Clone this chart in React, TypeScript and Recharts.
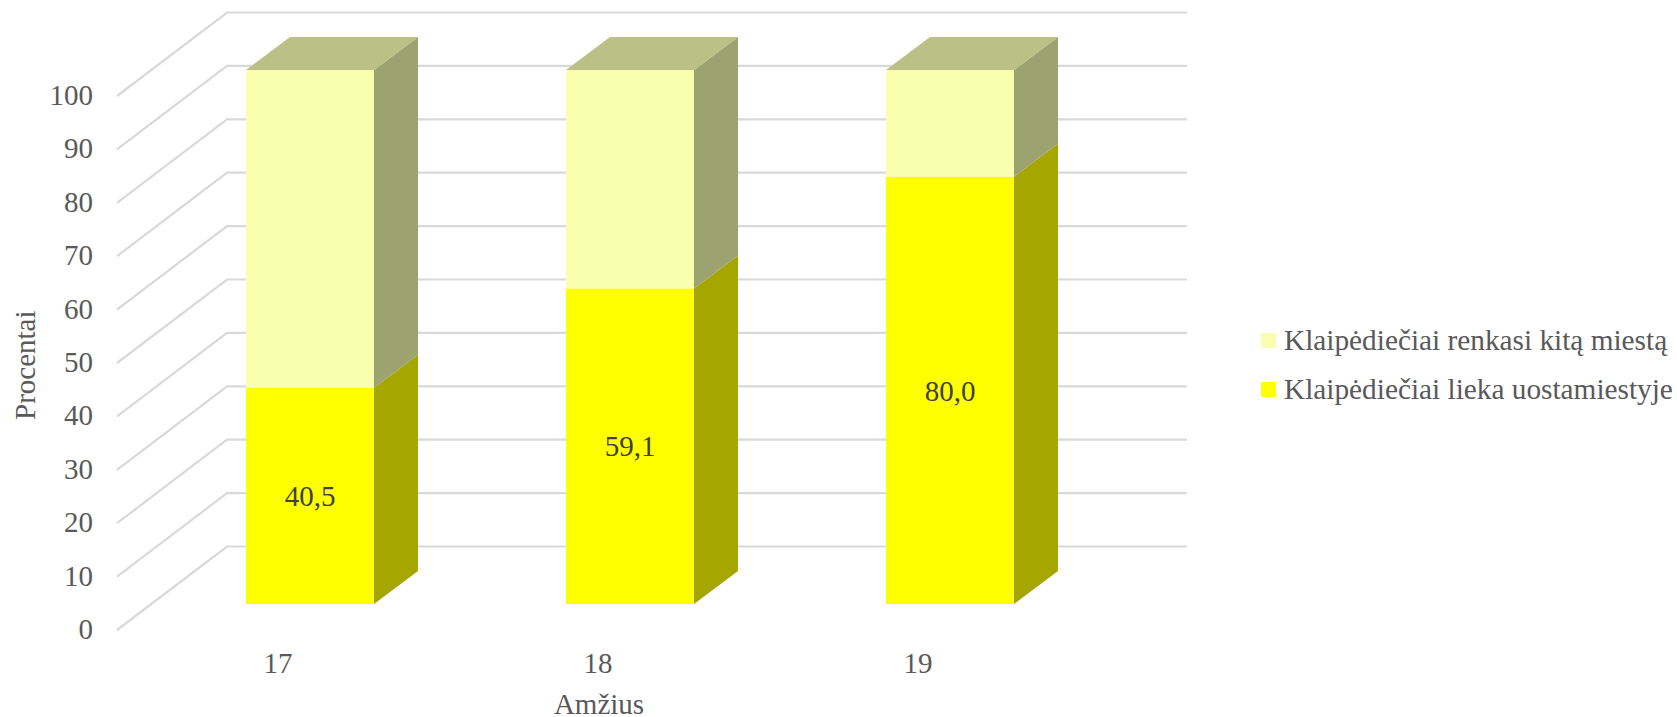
import { Bar, BarChart, CartesianGrid, LabelList, Legend, XAxis, YAxis } from "recharts";

const ages = ["17", "18", "19"];
const stayValues = [40.5, 59.1, 80.0];
const leaveValues = [59.5, 40.9, 20.0];
const yTicks = [0, 10, 20, 30, 40, 50, 60, 70, 80, 90, 100];

const STAY_NAME = "Klaipėdiečiai lieka uostamiestyje";
const LEAVE_NAME = "Klaipėdiečiai renkasi kitą miestą";

const chartData = ages.map((age, i) => ({ age, stay: stayValues[i], leave: leaveValues[i] }));

const FONT = "'Liberation Serif', serif";
const FONT_SIZE = 29;
const DEPTH_X = 44;
const DEPTH_Y = 33;

const colors = {
  grid: "#d9d9d9",
  axis: "#595959",
  label: "#404040",
  stay: "#ffff00",
  staySide: "#a6a600",
  leave: "#fafeaf",
  leaveSide: "#9da370",
  leaveTop: "#bbc087",
};

function WallLine(props: any) {
  const y = props.y1;
  return (
    <polyline
      points={`117,${y + 26} 227,${y - 57.5} 1187,${y - 57.5}`}
      fill="none"
      stroke={colors.grid}
      strokeWidth={2.2}
    />
  );
}

function Box({ x, y, width, height, front, side, top }: any) {
  const r = x + width;
  return (
    <g>
      <rect x={x} y={y} width={width} height={height} fill={front} />
      <polygon
        points={`${r},${y} ${r + DEPTH_X},${y - DEPTH_Y} ${r + DEPTH_X},${y + height - DEPTH_Y} ${r},${y + height}`}
        fill={side}
      />
      {top && (
        <polygon
          points={`${x},${y} ${x + DEPTH_X},${y - DEPTH_Y} ${r + DEPTH_X},${y - DEPTH_Y} ${r},${y}`}
          fill={top}
        />
      )}
    </g>
  );
}

function YTick({ y, payload }: any) {
  return (
    <text x={93} y={y + 35} textAnchor="end" fontFamily={FONT} fontSize={FONT_SIZE} fill={colors.axis}>
      {payload.value}
    </text>
  );
}

function XTick({ x, payload }: any) {
  return (
    <text x={x - 32} y={673} textAnchor="middle" fontFamily={FONT} fontSize={FONT_SIZE} fill={colors.axis}>
      {payload.value}
    </text>
  );
}

function LegendBox({ payload }: any) {
  return (
    <div style={{ fontFamily: FONT, fontSize: 29.3, color: colors.axis }}>
      {[...(payload || [])].reverse().map((item: any) => (
        <div key={item.value} style={{ display: "flex", alignItems: "center", height: 49, whiteSpace: "nowrap" }}>
          <span style={{ width: 15, height: 15, background: item.color, marginRight: 8 }} />
          {item.value}
        </div>
      ))}
    </div>
  );
}

export default function App() {
  return (
    <div style={{ position: "absolute", left: 0, top: 0, width: 1677, height: 717 }}>
      <BarChart
        width={1677}
        height={717}
        data={chartData}
        barSize={128}
        margin={{ top: 70, right: 151, bottom: 53, left: 50 }}
      >
        <CartesianGrid vertical={false} horizontal={(props: any) => <WallLine key={props.index} {...props} />} />
        <XAxis
          dataKey="age"
          height={60}
          tickLine={false}
          axisLine={false}
          tick={<XTick />}
          label={{
            value: "Amžius",
            position: "insideBottom",
            offset: -50,
            dx: -31,
            fontFamily: FONT,
            fontSize: FONT_SIZE,
            fill: colors.axis,
          }}
        />
        <YAxis
          domain={[0, 100]}
          ticks={yTicks}
          width={100}
          tickLine={false}
          axisLine={false}
          tick={<YTick />}
          label={{
            value: "Procentai",
            angle: -90,
            position: "insideLeft",
            offset: -25,
            dy: 83,
            fontFamily: FONT,
            fontSize: FONT_SIZE,
            fill: colors.axis,
          }}
        />
        <Legend
          layout="vertical"
          align="right"
          verticalAlign="middle"
          content={<LegendBox />}
          wrapperStyle={{ left: 1261, top: 316, width: 416 }}
        />
        <Bar
          dataKey="stay"
          name={STAY_NAME}
          stackId="a"
          fill={colors.stay}
          isAnimationActive={false}
          shape={(p: any) => <Box {...p} front={colors.stay} side={colors.staySide} />}
        >
          <LabelList
            dataKey="stay"
            position="center"
            formatter={(v: any) => Number(v).toFixed(1).replace(".", ",")}
            fontFamily={FONT}
            fontSize={FONT_SIZE}
            fill={colors.label}
          />
        </Bar>
        <Bar
          dataKey="leave"
          name={LEAVE_NAME}
          stackId="a"
          fill={colors.leave}
          isAnimationActive={false}
          shape={(p: any) => <Box {...p} front={colors.leave} side={colors.leaveSide} top={colors.leaveTop} />}
        />
      </BarChart>
    </div>
  );
}
